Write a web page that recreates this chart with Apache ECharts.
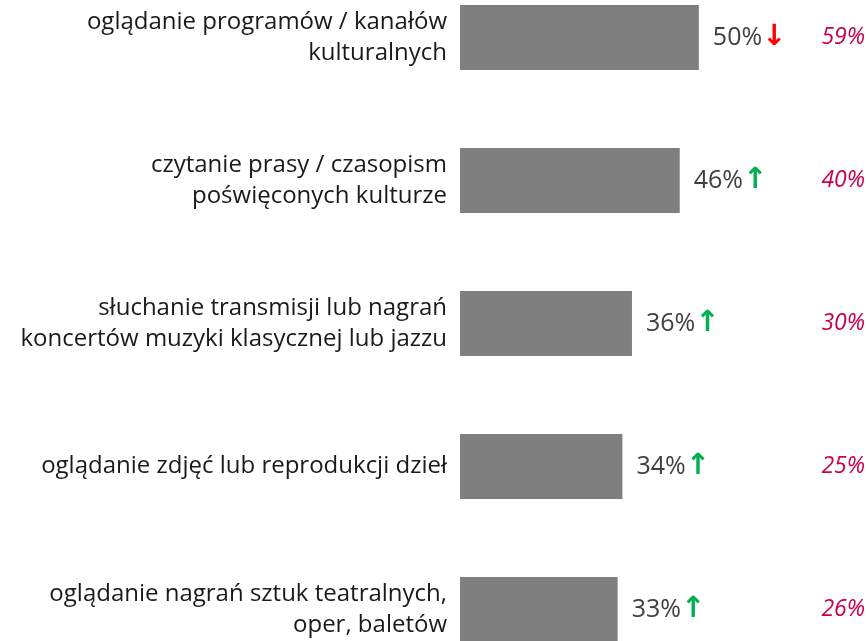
<!DOCTYPE html>
<html>
<head>
<meta charset="utf-8">
<script src="https://cdn.jsdelivr.net/npm/echarts@6/dist/echarts.min.js"></script>
<style>
html,body{margin:0;padding:0;background:#fff;overflow:hidden;width:868px;height:641px;}
#chart{width:868px;height:715px;margin-top:-34px;}
</style>
</head>
<body>
<div id="chart"></div>
<script>
var categories = [
    'oglądanie programów / kanałów\nkulturalnych',
    'czytanie prasy / czasopism\npoświęconych kulturze',
    'słuchanie transmisji lub nagrań\nkoncertów muzyki klasycznej lub jazzu',
    'oglądanie zdjęć lub reprodukcji dzieł',
    'oglądanie nagrań sztuk teatralnych,\noper, baletów'
];
var current = [50, 46, 36, 34, 33];
var previous = [59, 40, 30, 25, 26];

var chart = echarts.init(document.getElementById('chart'));
chart.setOption({
    animation: false,
    textStyle: {fontFamily: 'Open Sans'},
    grid: {
        left: 460,
        right: 72,
        top: 0,
        bottom: 0
    },
    xAxis: {
        type: 'value',
        min: 0,
        max: 70,
        show: false
    },
    yAxis: [
        {
            type: 'category',
            inverse: true,
            data: categories,
            axisLine: {show: false},
            axisTick: {show: false},
            axisLabel: {
                margin: 13,
                fontSize: 24,
                lineHeight: 31,
                color: '#1a1a1a',
                align: 'right',
                padding: [10, 0, 0, 0]
            }
        },
        {
            type: 'category',
            inverse: true,
            position: 'right',
            data: previous.map(function (v) { return v + '%'; }),
            axisLine: {show: false},
            axisTick: {show: false},
            axisLabel: {
                margin: 27,
                fontSize: 23,
                fontStyle: 'italic',
                color: '#c8004e'
            }
        }
    ],
    series: [
        {
            type: 'bar',
            data: current,
            barWidth: 65,
            itemStyle: {color: '#7f7f7f'},
            label: {
                show: true,
                position: 'right',
                distance: 14,
                formatter: function (p) {
                    var i = p.dataIndex;
                    var arrow = current[i] < previous[i] ? '{dn|↓}' : '{up|↑}';
                    return '{v|' + p.value + '%}' + arrow;
                },
                rich: {
                    v: {fontSize: 25, color: '#404040'},
                    up: {fontSize: 29, color: '#00b050', fontWeight: 'bold', fontFamily: 'DejaVu Sans'},
                    dn: {fontSize: 29, color: '#ff0000', fontWeight: 'bold', fontFamily: 'DejaVu Sans'}
                }
            }
        }
    ]
});
</script>
</body>
</html>
